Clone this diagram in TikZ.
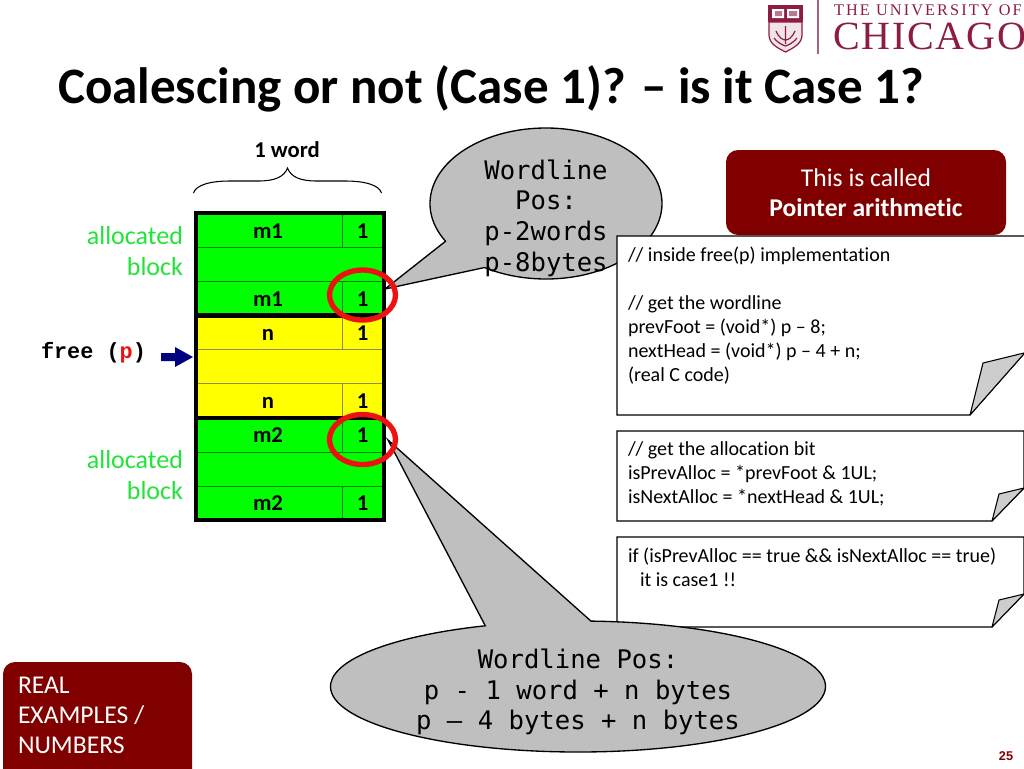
\documentclass[tikz,border=0pt]{standalone}
\usepackage{fontspec}
\setmainfont{Carlito}[Ligatures=NoCommon]
\newfontfamily\calloutfont{DejaVu Sans Mono}
\newfontfamily\codefont{Liberation Mono}[BoldFont={Liberation Mono Bold}]
\newfontfamily\logofont{Liberation Serif}
\newfontfamily\numfont{Liberation Sans}
\usetikzlibrary{calc}
\definecolor{maroonbox}{HTML}{800000}
\definecolor{uchic}{HTML}{8C1D40}
\definecolor{blockgreen}{HTML}{00FF00}
\definecolor{labelgreen}{HTML}{22E33A}
\definecolor{blockyellow}{HTML}{FFFF00}
\definecolor{calloutgray}{HTML}{BFBFBF}
\definecolor{foldgray}{HTML}{CDCDCD}
\definecolor{ringred}{HTML}{EE1111}
\definecolor{arrownavy}{HTML}{000080}
\tikzset{
  x=0.75pt,y=-0.75pt,
  every node/.style={inner sep=0pt,outer sep=0pt},
  rowgreen/.style={fill=blockgreen,draw=green!50!black,line width=0.6pt},
  rowyellow/.style={fill=blockyellow,draw=yellow!50!black,line width=0.6pt},
  cellsep/.style={line width=0.6pt},
  cellcap/.style={font=\fontsize{17}{20}\selectfont\bfseries,anchor=base},
  thickrule/.style={line width=3.2pt,black},
  ring/.style={draw=ringred,line width=4pt},
  callout/.style={fill=calloutgray,draw=black,line width=1pt},
  callouttext/.style={font=\calloutfont\fontsize{19.2}{23}\selectfont,align=center},
  notebox/.style={fill=white,draw=black,line width=0.8pt},
  notefold/.style={fill=foldgray,draw=black,line width=0.8pt,line join=round},
  notetext/.style={font=\fontsize{15}{18}\selectfont,align=left,anchor=north west},
  redbox/.style={fill=maroonbox,rounded corners=9pt},
  sidelabel/.style={font=\fontsize{19.5}{22.5}\selectfont,text=labelgreen,align=right,anchor=north east},
}
\begin{document}
\begin{tikzpicture}
\useasboundingbox (0,0) rectangle (1024,768);
% logo
\draw[uchic!70,line width=0.8pt] (818,0) -- (818,54);
\node[anchor=base west,text=uchic] (logoa) at (834,15.5) {\logofont\addfontfeature{LetterSpace=13}\fontsize{12.2}{14}\selectfont THE UNIVERSITY OF};
\node[anchor=base west,text=uchic] (logob) at (833,49) {\logofont\addfontfeature{LetterSpace=4.5}\fontsize{30}{34}\selectfont CHICAGO};
\fill[uchic] (768,5) rectangle (803,22);
\fill[white] (772,9) rectangle (784,18) (787,9) rectangle (799,18);
\fill[uchic!60] (775,11) rectangle (782,16) (789,11) rectangle (797,16);
\draw[uchic,line width=0.9pt,fill=uchic!12] (769,22) -- (802,22) -- (802,35) .. controls (802,44) and (793,48) .. (785.5,52) .. controls (778,48) and (769,44) .. (769,35) -- cycle;
\draw[uchic,line width=0.9pt] (785.5,26) -- (785.5,44) (776,31) .. controls (779,38) and (783,40) .. (785.5,40) .. controls (788,40) and (792,38) .. (795,31) (774,38) .. controls (779,44) and (783,45) .. (785.5,46) .. controls (788,45) and (792,44) .. (797,38);
% title
\node[anchor=base west,font=\fontsize{38.3}{44}\selectfont\bfseries] (title) at (58,103) {Coalescing or not (Case 1)? – is it Case 1?};
% word brace
\node[cellcap] (wordlabel) at (287,157) {1 word};
\coordinate (bl) at (193.5,193);
\coordinate (br) at (381.5,193);
\coordinate (btip) at (287.5,168);
\draw[line width=0.8pt] (bl) .. controls (196,185) and (210,181) .. (230,181) -- (258,181) .. controls (275,181) and (284,177) .. (btip) .. controls (291,177) and (300,181) .. (317,181) -- (345,181) .. controls (365,181) and (379,185) .. (br);
% memory rows
\path[rowgreen] (196,213) rectangle (384,247);
\path[rowgreen] (196,247) rectangle (384,281);
\path[rowgreen] (196,281) rectangle (384,315);
\path[rowyellow] (196,315) rectangle (384,349);
\path[rowyellow] (196,349) rectangle (384,383);
\path[rowyellow] (196,383) rectangle (384,418);
\path[rowgreen] (196,418) rectangle (384,452);
\path[rowgreen] (196,452) rectangle (384,486);
\path[rowgreen] (196,486) rectangle (384,520);
\draw[cellsep,green!50!black] (342,213) -- (342,247) (342,281) -- (342,315) (342,418) -- (342,452) (342,486) -- (342,520);
\draw[cellsep,yellow!50!black] (342,315) -- (342,349) (342,383) -- (342,418);
\draw[thickrule] (196,213) rectangle (384,520);
\draw[thickrule] (196,315.5) -- (384,315.5) (196,418) -- (384,418);
\foreach \nm/\yy/\a in {r1/238/m1,r3/306/m1,r4/340/n,r6/408/n,r7/442/m2,r9/510/m2}{
  \node[cellcap] (\nm a) at (268,\yy) {\a};
  \node[cellcap] (\nm b) at (362.5,\yy) {1};
}
% side labels
\node[sidelabel] (alloca) at (183,226.5) {allocated\\[1pt]block};
\node[sidelabel] (allocb) at (183,450.5) {allocated\\[1pt]block};
\node[anchor=base west,font=\codefont\bfseries\fontsize{16.4}{20}\selectfont] (freecall) at (41,358) {free (\textcolor{ringred}{p})};
\fill[arrownavy] (161,353) -- (175,353) -- (175,347) -- (193,357) -- (175,367) -- (175,361) -- (161,361) -- cycle;
% upper callout
\coordinate (tipa) at (385,289);
\draw[callout] (tipa) -- ($(546,203.5)+(150:116 and 75.5)$) arc[start angle=150,end angle=482,x radius=116,y radius=75.5] -- cycle;
\node[callouttext] (callouta) at (546,218) {Wordline\\Pos:\\p-2words\\p-8bytes};
% notes
\draw[notebox] (617,236) -- (1030,236) -- (1030,347) -- (970,415) -- (617,415) -- cycle;
\draw[notefold] (970,415) -- (983,363) -- (1024,353) -- (1030,351) -- (1030,347) -- cycle;
\node[notetext] (notea) at (628,247) {// inside free(p) implementation\\[18pt]// get the wordline\\prevFoot = (void*) p – 8;\\nextHead = (void*) p – 4 + n;\\(real C code)};
\draw[notebox] (617,431) -- (1024,431) -- (1024,488) -- (992,521) -- (617,521) -- cycle;
\draw[notefold] (992,521) -- (999,494) -- (1024,488) -- cycle;
\node[notetext] (noteb) at (628,442) {// get the allocation bit\\isPrevAlloc = *prevFoot \& 1UL;\\isNextAlloc = *nextHead \& 1UL;};
\draw[notebox] (617,537) -- (1024,537) -- (1024,594) -- (992,627) -- (617,627) -- cycle;
\draw[notefold] (992,627) -- (999,600) -- (1024,594) -- cycle;
\node[notetext] (notec) at (628,548) {if (isPrevAlloc == true \&\& isNextAlloc == true)\\\hspace*{9pt}it is case1 !!};
% lower callout
\coordinate (tipb) at (388,440);
\draw[callout] (tipb) -- ($(578,686.5)+(273:247.5 and 65.5)$) arc[start angle=273,end angle=608,x radius=247.5,y radius=65.5] -- cycle;
\node[callouttext] (calloutb) at (578,692) {Wordline Pos:\\p - 1 word + n bytes\\p – 4 bytes + n bytes};
% rings
\draw[ring] (362.5,295) ellipse[x radius=33,y radius=25];
\draw[ring] (362.5,439.5) ellipse[x radius=33,y radius=25];
% red boxes
\path[redbox] (726,150) rectangle (1006,235);
\node[text=white,font=\fontsize{19.2}{22}\selectfont,anchor=base] (pa) at (866,186) {This is called};
\node[text=white,font=\fontsize{19.2}{22}\selectfont\bfseries,anchor=base] (pb) at (866,216) {Pointer arithmetic};
\path[redbox] (3,662) rectangle (192,790);
\node[text=white,font=\fontsize{19.2}{22.5}\selectfont,align=left,anchor=north west] (real) at (18,677) {REAL\\EXAMPLES /\\NUMBERS};
% page number
\node[text=maroonbox,font=\numfont\bfseries\fontsize{9.5}{11}\selectfont,anchor=base] (pagenum) at (1006,760) {25};
\end{tikzpicture}
\end{document}
